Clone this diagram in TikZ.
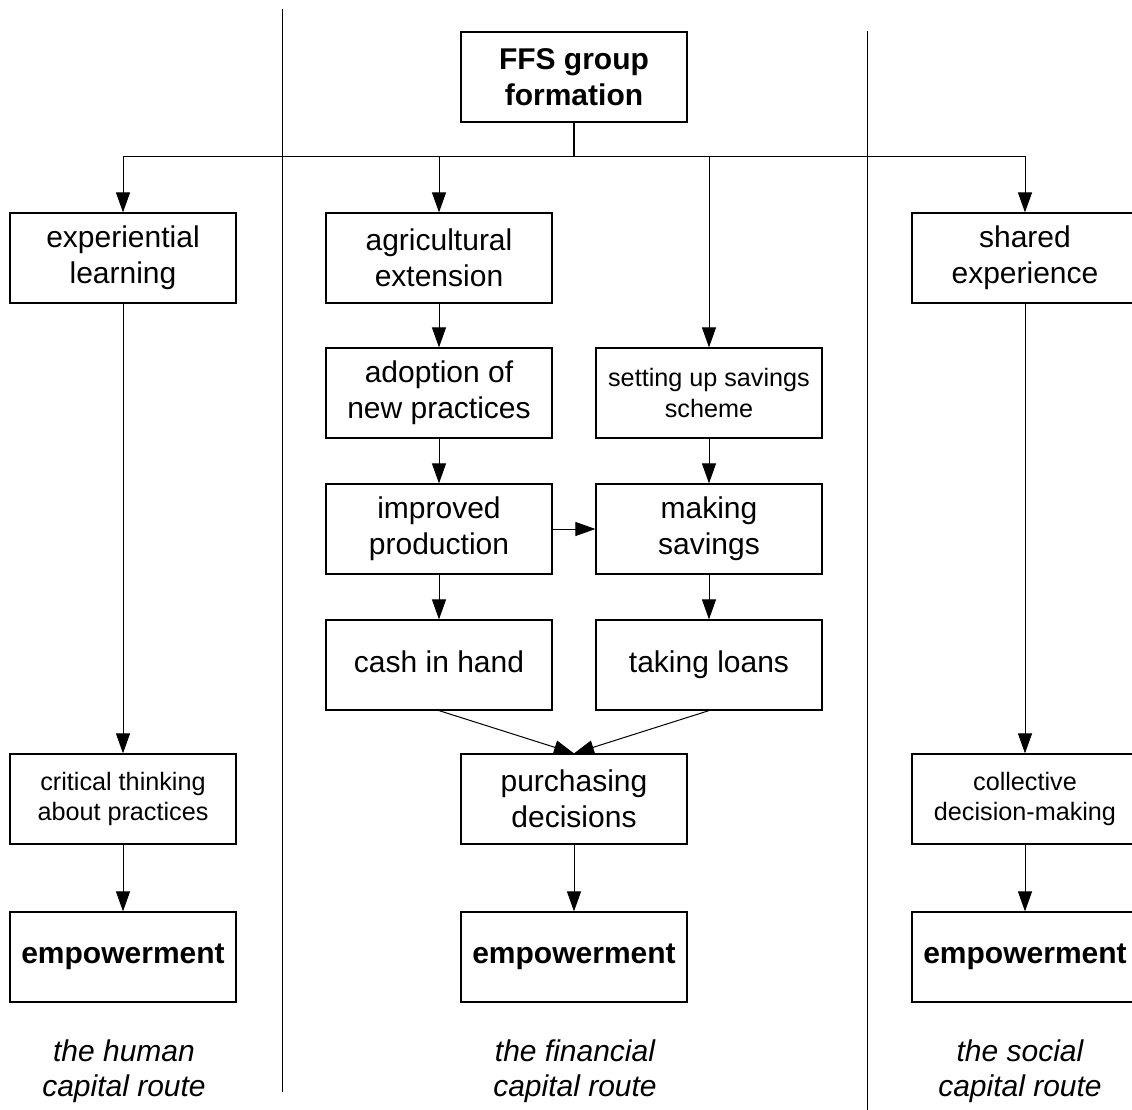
\documentclass[tikz,border=0pt]{standalone}
\usepackage{fontspec}
\setmainfont{Liberation Sans}
\usetikzlibrary{arrows.meta}
\tikzset{
 hop/.style={draw, line width=0.6pt, minimum width=113pt, minimum height=45pt, inner sep=0pt, align=center, font=\fontsize{15}{18}\selectfont},
 hopsmall/.style={hop, font=\fontsize{12.6}{15.4}\selectfont},
 hopbold/.style={hop, font=\fontsize{15}{18}\selectfont\bfseries},
 route/.style={align=center, font=\fontsize{15}{17.5}\selectfont\itshape}
}
\begin{document}
\begin{tikzpicture}[>={Triangle[length=10pt,width=7pt]}, x=0.5pt, y=-0.5pt, line width=0.5pt]
\useasboundingbox (0,0) rectangle (1132,1110);
% hai vạch chia các cột
\draw (282,9)--(282,1092);
\draw (867,31)--(867,1110);
% nút gốc
\node[hopbold] (ffs) at (574,77) {FFS group\\formation};
\coordinate (fork) at (574,156);
% cột trái
\node[hop] (exp) at (123,258) {experiential\\learning};
\node[hopsmall] (crit) at (123,799) {critical thinking\\about practices};
\node[hopbold] (empl) at (123,957) {empowerment};
% cột giữa
\node[hop] (agri) at (439,258) {agricultural\\extension};
\node[hop] (adopt) at (439,393) {adoption of\\new practices};
\node[hop] (impr) at (439,529) {improved\\production};
\node[hop] (cash) at (439,665) {\strut cash in hand};
\node[hopsmall] (sav) at (709,393) {setting up savings\\scheme};
\node[hop] (mksav) at (709,529) {making\\savings};
\node[hop] (loans) at (709,665) {\strut taking loans};
\node[hop] (purch) at (574,799) {purchasing\\decisions};
\node[hopbold] (empm) at (574,957) {empowerment};
% cột phải
\node[hop] (shared) at (1025,258) {shared\\experience};
\node[hopsmall] (coll) at (1025,799) {collective\\decision-making};
\node[hopbold] (empr) at (1025,957) {empowerment};
% nhãn các con đường
\node[route] (rh) at (124,1071) {the human\\capital route};
\node[route] (rf) at (575,1071) {the financial\\capital route};
\node[route] (rs) at (1020,1071) {the social\\capital route};
% mũi tên
\draw[line width=1pt] (ffs) -- (fork);
\foreach \t in {exp,agri,sav,shared}
\draw[->] (fork) -| (\t.north);
\draw[->] (exp) -- (crit);
\draw[->] (crit) -- (empl);
\draw[->] (agri) -- (adopt);
\draw[->] (adopt) -- (impr);
\draw[->] (impr) -- (cash);
\draw[->] (impr) -- (mksav);
\draw[->] (sav) -- (mksav);
\draw[->] (mksav) -- (loans);
\draw[->] (cash.south) -- (purch.north);
\draw[->] (loans.south) -- (purch.north);
\draw[->] (purch) -- (empm);
\draw[->] (shared) -- (coll);
\draw[->] (coll) -- (empr);
\end{tikzpicture}
\end{document}
